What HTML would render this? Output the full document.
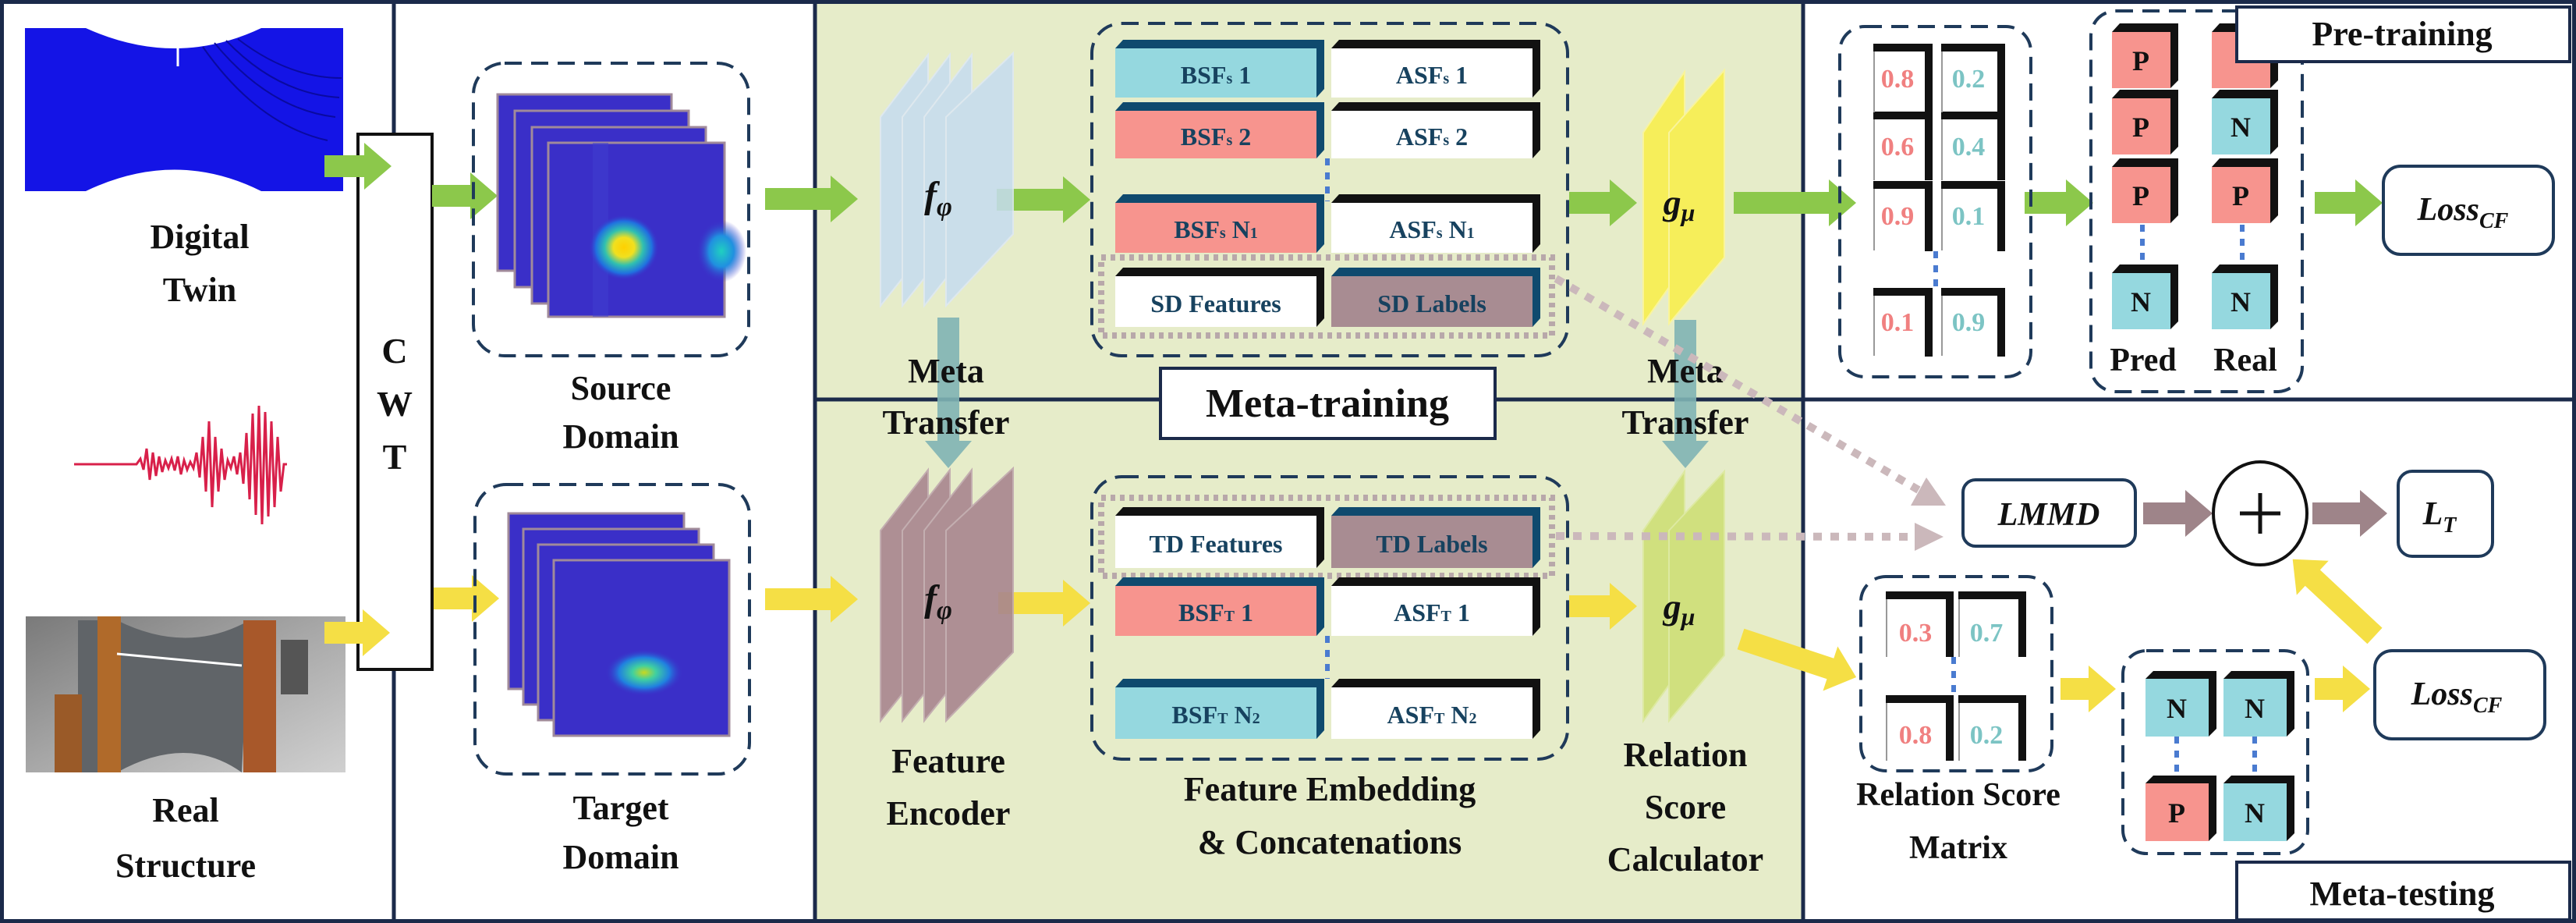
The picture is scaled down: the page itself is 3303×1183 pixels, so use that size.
<!DOCTYPE html>
<html><head><meta charset="utf-8"><style>
html,body{margin:0;padding:0;background:#fff}
svg{display:block}
text{font-family:"Liberation Serif",serif;font-weight:bold}
</style></head><body>
<svg width="3303" height="1183" viewBox="0 0 3303 1183" xmlns="http://www.w3.org/2000/svg">
<defs>
<radialGradient id="blob1" cx="0.5" cy="0.5" r="0.5">
<stop offset="0" stop-color="#ffd000"/><stop offset="0.3" stop-color="#f0e020"/><stop offset="0.55" stop-color="#30c0b0"/><stop offset="0.8" stop-color="#2070e0"/><stop offset="1" stop-color="#3a2fc8" stop-opacity="0"/>
</radialGradient>
<radialGradient id="blob2" cx="0.5" cy="0.5" r="0.5">
<stop offset="0" stop-color="#20d0c0"/><stop offset="0.5" stop-color="#2090e0"/><stop offset="1" stop-color="#3a2fc8" stop-opacity="0"/>
</radialGradient>
<radialGradient id="blob3" cx="0.5" cy="0.5" r="0.5">
<stop offset="0" stop-color="#c8d820"/><stop offset="0.3" stop-color="#40d0a0"/><stop offset="0.65" stop-color="#2080e0"/><stop offset="1" stop-color="#3a2fc8" stop-opacity="0"/>
</radialGradient>
<linearGradient id="photo" x1="0" y1="0" x2="1" y2="1">
<stop offset="0" stop-color="#7a7a7a"/><stop offset="0.5" stop-color="#a8a8a8"/><stop offset="1" stop-color="#d0d0d0"/>
</linearGradient>
</defs>

<!-- panels -->
<rect x="1045" y="0" width="1267" height="1183" fill="#e6ecc9"/>
<rect x="2.5" y="2.5" width="3298" height="1178" fill="none" stroke="#1b2a4a" stroke-width="5"/>
<line x1="505" y1="0" x2="505" y2="1183" stroke="#1b2a4a" stroke-width="5"/>
<line x1="1045" y1="0" x2="1045" y2="1183" stroke="#1b2a4a" stroke-width="5"/>
<line x1="2312" y1="0" x2="2312" y2="1183" stroke="#1b2a4a" stroke-width="5"/>
<line x1="1045" y1="512" x2="3303" y2="512" stroke="#1b2a4a" stroke-width="5"/>

<!-- digital twin plate -->
<path d="M32,36 L110,36 Q225,88 335,36 L440,36 L440,245 L335,245 Q225,190 110,245 L32,245 Z" fill="#1414e6"/>
<line x1="228" y1="60" x2="228" y2="85" stroke="#fff" stroke-width="3"/>
<g fill="none" stroke="#0a0aa0" stroke-width="2">
<path d="M260,60 Q330,160 420,180"/><path d="M275,55 Q345,140 430,150"/><path d="M290,52 Q355,120 435,125"/><path d="M305,50 Q370,100 438,100"/>
</g>
<text x="256" y="318" font-size="44" text-anchor="middle" fill="#111">Digital</text>
<text x="256" y="386" font-size="44" text-anchor="middle" fill="#111">Twin</text>

<!-- waveform -->
<polyline fill="none" stroke="#d8204a" stroke-width="3" points="95,595 175,595 180,588 184,602 188,575 192,615 196,580 200,610 204,585 208,605 212,590 216,600 220,588 224,603 228,585 232,608 236,590 240,602 244,592 248,600 252,580 256,612 260,560 264,630 268,540 272,650 276,560 280,630 284,575 288,615 292,590 296,600 300,585 304,608 308,580 312,620 316,555 320,640 324,530 328,660 332,520 336,672 340,528 344,662 348,540 352,650 356,560 360,630 364,595 368,595"/>

<!-- real structure photo -->
<rect x="33" y="790" width="410" height="200" fill="url(#photo)"/>
<path d="M100,795 L150,795 Q240,840 320,795 L310,990 Q240,940 150,990 L100,990Z" fill="#606468"/>
<rect x="125" y="790" width="30" height="200" fill="#b06a2a"/>
<rect x="70" y="890" width="35" height="100" fill="#9a5a28"/>
<rect x="312" y="795" width="42" height="195" fill="#a8582a"/>
<rect x="360" y="820" width="35" height="70" fill="#555"/>
<line x1="150" y1="838" x2="310" y2="853" stroke="#fff" stroke-width="3"/>
<text x="238" y="1053" font-size="44" text-anchor="middle" fill="#111">Real</text>
<text x="238" y="1124" font-size="44" text-anchor="middle" fill="#111">Structure</text>

<!-- CWT -->
<rect x="459" y="172" width="95" height="686" fill="#fff" stroke="#111" stroke-width="4"/>
<text x="506" y="465" font-size="46" text-anchor="middle" fill="#111">C</text>
<text x="506" y="533" font-size="46" text-anchor="middle" fill="#111">W</text>
<text x="506" y="601" font-size="46" text-anchor="middle" fill="#111">T</text>

<!-- arrows left -->
<g fill="#8cc84b">
<polygon points="416,199 467,199 467,183 502,213 467,243 467,227 416,227"/>
<polygon points="554,237 603,237 603,221 638,251 603,281 603,265 554,265"/>
<polygon points="981,241 1065,241 1065,225 1100,255 1065,285 1065,269 981,269"/>
<polygon points="1278,242 1363,242 1363,226 1398,256 1363,286 1363,270 1278,270"/>
<polygon points="2012,246 2064,246 2064,230 2099,260 2064,290 2064,274 2012,274"/>
<polygon points="2223,246 2345,246 2345,230 2380,260 2345,290 2345,274 2223,274"/>
<polygon points="2596,246 2649,246 2649,230 2684,260 2649,290 2649,274 2596,274"/>
<polygon points="2968,246 3020,246 3020,230 3055,260 3020,290 3020,274 2968,274"/>
</g>
<g fill="#f5df45">
<polygon points="416,797 465,797 465,781 500,811 465,841 465,825 416,825"/>
<polygon points="556,753 605,753 605,737 640,767 605,797 605,781 556,781"/>
<polygon points="981,754 1065,754 1065,738 1100,768 1065,798 1065,782 981,782"/>
<polygon points="1280,759 1363,759 1363,743 1398,773 1363,803 1363,787 1280,787"/>
<polygon points="2012,763 2064,763 2064,747 2099,777 2064,807 2064,791 2012,791"/>
<polygon points="2642,869 2678,869 2678,853 2713,883 2678,913 2678,897 2642,897"/>
<polygon points="2968,869 3004,869 3004,853 3039,883 3004,913 3004,897 2968,897"/>
<g transform="translate(2232,819) rotate(18.3)"><polygon points="0,-14 121,-14 121,-30 156,0 121,30 121,14 0,14"/></g>
<g transform="translate(3045,815) rotate(223)"><polygon points="0,-14 109,-14 109,-30 144,0 109,30 109,14 0,14"/></g>
</g>

<!-- source domain -->
<rect x="607" y="81" width="353" height="375" rx="40" fill="none" stroke="#1f3a5a" stroke-width="4" stroke-dasharray="22 12"/>
<g stroke="#a08a9a" stroke-width="3" fill="#3a2fc8">
<rect x="638" y="121" width="223" height="226"/>
<rect x="660" y="142" width="223" height="226"/>
<rect x="682" y="163" width="223" height="226"/>
<rect x="703" y="183" width="226" height="223"/>
</g>
<rect x="760" y="183" width="20" height="223" fill="#4040d0" opacity="0.5"/>
<ellipse cx="800" cy="317" rx="45" ry="42" fill="url(#blob1)"/>
<ellipse cx="925" cy="322" rx="32" ry="40" fill="url(#blob2)"/>
<text x="796" y="512" font-size="44" text-anchor="middle" fill="#111">Source</text>
<text x="796" y="574" font-size="44" text-anchor="middle" fill="#111">Domain</text>

<!-- target domain -->
<rect x="609" y="621" width="352" height="371" rx="40" fill="none" stroke="#1f3a5a" stroke-width="4" stroke-dasharray="22 12"/>
<g stroke="#a08a9a" stroke-width="3" fill="#3a2fc8">
<rect x="652" y="658" width="225" height="225"/>
<rect x="671" y="678" width="225" height="225"/>
<rect x="690" y="698" width="225" height="225"/>
<rect x="710" y="718" width="225" height="225"/>
</g>
<ellipse cx="826" cy="862" rx="50" ry="30" fill="url(#blob3)"/>
<text x="796" y="1050" font-size="44" text-anchor="middle" fill="#111">Target</text>
<text x="796" y="1113" font-size="44" text-anchor="middle" fill="#111">Domain</text>

<!-- f phi top -->
<g fill="#c6dcf0" stroke="#dde8f5" stroke-width="2" opacity="0.85">
<polygon points="1129,150 1190,70 1190,315 1129,392"/>
<polygon points="1157,150 1218,70 1218,315 1157,392"/>
<polygon points="1185,150 1246,70 1246,315 1185,392"/>
<polygon points="1213,150 1299,68 1299,300 1213,392"/>
</g>
<text x="1203" y="266" font-size="48" text-anchor="middle" fill="#111" font-style="italic">f<tspan font-size="34" dy="10">φ</tspan></text>
<!-- f phi bottom -->
<g fill="#a8868f" stroke="#c0a8ae" stroke-width="2" opacity="0.9">
<polygon points="1129,680 1190,602 1190,848 1129,924"/>
<polygon points="1157,680 1218,602 1218,848 1157,924"/>
<polygon points="1185,680 1246,602 1246,848 1185,924"/>
<polygon points="1213,680 1299,600 1299,836 1213,924"/>
</g>
<text x="1203" y="783" font-size="48" text-anchor="middle" fill="#111" font-style="italic">f<tspan font-size="34" dy="10">φ</tspan></text>

<!-- g mu top -->
<g fill="#f7ef55" stroke="#fbf59a" stroke-width="2" opacity="0.95">
<polygon points="2107,170 2160,92 2160,340 2107,415"/>
<polygon points="2140,170 2211,90 2211,330 2140,415"/>
</g>
<text x="2153" y="275" font-size="46" text-anchor="middle" fill="#111" font-style="italic">g<tspan font-size="32" dy="8">μ</tspan></text>
<!-- g mu bottom -->
<g fill="#cfe07a" stroke="#dde9a0" stroke-width="2" opacity="0.95">
<polygon points="2107,680 2160,604 2160,850 2107,924"/>
<polygon points="2140,680 2211,604 2211,840 2140,924"/>
</g>
<text x="2153" y="793" font-size="46" text-anchor="middle" fill="#111" font-style="italic">g<tspan font-size="32" dy="8">μ</tspan></text>

<!-- meta transfer arrows (teal) -->
<g fill="#7fb4b4" opacity="0.9">
<polygon points="1202,407 1230,407 1230,565 1246,565 1216,600 1186,565 1202,565"/>
<polygon points="2147,410 2175,410 2175,565 2191,565 2161,600 2131,565 2147,565"/>
</g>
<text x="1213" y="490" font-size="44" text-anchor="middle" fill="#111">Meta</text>
<text x="1213" y="556" font-size="44" text-anchor="middle" fill="#111">Transfer</text>
<text x="2161" y="490" font-size="44" text-anchor="middle" fill="#111">Meta</text>
<text x="2161" y="556" font-size="44" text-anchor="middle" fill="#111">Transfer</text>

<!-- meta-training label -->
<rect x="1488" y="472" width="429" height="90" fill="#fff" stroke="#1b2a4a" stroke-width="4"/>
<text x="1702" y="534" font-size="52" text-anchor="middle" fill="#111">Meta-training</text>

<!-- top embedding box -->
<rect x="1400" y="30" width="610" height="426" rx="38" fill="none" stroke="#1f3a5a" stroke-width="4" stroke-dasharray="22 12"/>
<rect x="1412" y="330" width="578" height="100" fill="none" stroke="#b8a8aa" stroke-width="8" stroke-dasharray="6 6"/>
<!-- bottom embedding box -->
<rect x="1400" y="611" width="610" height="362" rx="38" fill="none" stroke="#1f3a5a" stroke-width="4" stroke-dasharray="22 12"/>
<rect x="1412" y="638" width="578" height="100" fill="none" stroke="#b8a8aa" stroke-width="8" stroke-dasharray="6 6"/>

<!-- BSF boxes: helper pattern: top bar + right bar + front -->
<g font-size="32" text-anchor="middle" fill="#17425f">
<!-- row 1 -->
<polygon points="1430,62 1440,51 1698,51 1698,114 1688,125 1688,62" fill="#0f4a6e"/>
<rect x="1430" y="62" width="258" height="63" fill="#95d8df"/>
<text x="1559" y="107">BSF<tspan font-size="20">s</tspan> 1</text>
<polygon points="1707,62 1717,51 1975,51 1975,114 1965,125 1965,62" fill="#111"/>
<rect x="1707" y="62" width="258" height="63" fill="#fff"/>
<text x="1836" y="107">ASF<tspan font-size="20">s</tspan> 1</text>
<!-- row 2 -->
<polygon points="1430,142 1440,131 1698,131 1698,192 1688,203 1688,142" fill="#0f4a6e"/>
<rect x="1430" y="142" width="258" height="61" fill="#f7948e"/>
<text x="1559" y="186">BSF<tspan font-size="20">s</tspan> 2</text>
<polygon points="1707,142 1717,131 1975,131 1975,192 1965,203 1965,142" fill="#111"/>
<rect x="1707" y="142" width="258" height="61" fill="#fff"/>
<text x="1836" y="186">ASF<tspan font-size="20">s</tspan> 2</text>
<!-- row N1 -->
<polygon points="1430,260 1440,249 1698,249 1698,313 1688,324 1688,260" fill="#0f4a6e"/>
<rect x="1430" y="260" width="258" height="64" fill="#f7948e"/>
<text x="1559" y="305">BSF<tspan font-size="20">s</tspan> N<tspan font-size="20">1</tspan></text>
<polygon points="1707,260 1717,249 1975,249 1975,313 1965,324 1965,260" fill="#111"/>
<rect x="1707" y="260" width="258" height="64" fill="#fff"/>
<text x="1836" y="305">ASF<tspan font-size="20">s</tspan> N<tspan font-size="20">1</tspan></text>
<!-- SD row -->
<polygon points="1430,354 1440,343 1698,343 1698,408 1688,419 1688,354" fill="#111"/>
<rect x="1430" y="354" width="258" height="65" fill="#fff"/>
<text x="1559" y="400">SD Features</text>
<polygon points="1707,354 1717,343 1975,343 1975,408 1965,419 1965,354" fill="#0f4a6e"/>
<rect x="1707" y="354" width="258" height="65" fill="#a88c92"/>
<text x="1836" y="400">SD Labels</text>
<!-- TD row -->
<polygon points="1430,661 1440,650 1698,650 1698,717 1688,728 1688,661" fill="#111"/>
<rect x="1430" y="661" width="258" height="67" fill="#fff"/>
<text x="1559" y="708">TD Features</text>
<polygon points="1707,661 1717,650 1975,650 1975,717 1965,728 1965,661" fill="#0f4a6e"/>
<rect x="1707" y="661" width="258" height="67" fill="#a88c92"/>
<text x="1836" y="708">TD Labels</text>
<!-- BSFT 1 -->
<polygon points="1430,751 1440,740 1698,740 1698,804 1688,815 1688,751" fill="#0f4a6e"/>
<rect x="1430" y="751" width="258" height="64" fill="#f7948e"/>
<text x="1559" y="796">BSF<tspan font-size="20">T</tspan> 1</text>
<polygon points="1707,751 1717,740 1975,740 1975,804 1965,815 1965,751" fill="#111"/>
<rect x="1707" y="751" width="258" height="64" fill="#fff"/>
<text x="1836" y="796">ASF<tspan font-size="20">T</tspan> 1</text>
<!-- BSFT N2 -->
<polygon points="1430,881 1440,870 1698,870 1698,936 1688,947 1688,881" fill="#0f4a6e"/>
<rect x="1430" y="881" width="258" height="66" fill="#95d8df"/>
<text x="1559" y="927">BSF<tspan font-size="20">T</tspan> N<tspan font-size="20">2</tspan></text>
<polygon points="1707,881 1717,870 1975,870 1975,936 1965,947 1965,881" fill="#111"/>
<rect x="1707" y="881" width="258" height="66" fill="#fff"/>
<text x="1836" y="927">ASF<tspan font-size="20">T</tspan> N<tspan font-size="20">2</tspan></text>
</g>
<line x1="1702" y1="203" x2="1702" y2="258" stroke="#4a7bd0" stroke-width="6" stroke-dasharray="9 9"/>
<line x1="1702" y1="815" x2="1702" y2="870" stroke="#4a7bd0" stroke-width="6" stroke-dasharray="9 9"/>

<text x="1216" y="990" font-size="44" text-anchor="middle" fill="#111">Feature</text>
<text x="1216" y="1057" font-size="44" text-anchor="middle" fill="#111">Encoder</text>
<text x="1705" y="1026" font-size="44" text-anchor="middle" fill="#111">Feature Embedding</text>
<text x="1705" y="1094" font-size="44" text-anchor="middle" fill="#111">&amp; Concatenations</text>
<text x="2161" y="982" font-size="44" text-anchor="middle" fill="#111">Relation</text>
<text x="2161" y="1049" font-size="44" text-anchor="middle" fill="#111">Score</text>
<text x="2161" y="1116" font-size="44" text-anchor="middle" fill="#111">Calculator</text>

<!-- dotted arrows -->
<g stroke="#cbb8bb" stroke-width="10" stroke-dasharray="11 11" fill="none">
<line x1="1995" y1="357" x2="2460" y2="628"/>
<line x1="1995" y1="687" x2="2455" y2="688"/>
</g>
<polygon points="2495,648 2450,648 2470,612" fill="#cbb8bb"/>
<polygon points="2492,688 2455,670 2455,706" fill="#cbb8bb"/>

<!-- Pre-training label -->
<rect x="2868" y="9" width="427" height="70" fill="#fff" stroke="#1b2a4a" stroke-width="4"/>

<!-- score matrix top -->
<rect x="2359" y="34" width="245" height="449" rx="32" fill="none" stroke="#1f3a5a" stroke-width="4" stroke-dasharray="22 12"/>
<g font-size="34" text-anchor="middle">
<g id="sc">
</g>
</g>
<g stroke="none">
<!-- cells: white face, black top & right -->
<g fill="#111">
<rect x="2402" y="56" width="74" height="10"/><rect x="2468" y="56" width="10" height="88"/>
<rect x="2489" y="56" width="80" height="10"/><rect x="2561" y="56" width="10" height="88"/>
<rect x="2402" y="143" width="74" height="10"/><rect x="2468" y="143" width="10" height="88"/>
<rect x="2489" y="143" width="80" height="10"/><rect x="2561" y="143" width="10" height="88"/>
<rect x="2402" y="232" width="74" height="10"/><rect x="2468" y="232" width="10" height="90"/>
<rect x="2489" y="232" width="80" height="10"/><rect x="2561" y="232" width="10" height="90"/>
<rect x="2402" y="369" width="74" height="10"/><rect x="2468" y="369" width="10" height="88"/>
<rect x="2489" y="369" width="80" height="10"/><rect x="2561" y="369" width="10" height="88"/>
</g>
<g stroke="#999" stroke-width="2">
<line x1="2403" y1="66" x2="2403" y2="144"/><line x1="2490" y1="66" x2="2490" y2="144"/>
<line x1="2403" y1="153" x2="2403" y2="231"/><line x1="2490" y1="153" x2="2490" y2="231"/>
<line x1="2403" y1="242" x2="2403" y2="321"/><line x1="2490" y1="242" x2="2490" y2="321"/>
<line x1="2403" y1="379" x2="2403" y2="456"/><line x1="2490" y1="379" x2="2490" y2="456"/>
</g>
</g>
<g font-size="34" text-anchor="middle">
<text x="2433" y="112" fill="#f08080">0.8</text><text x="2524" y="112" fill="#7cc4c4">0.2</text>
<text x="2433" y="199" fill="#f08080">0.6</text><text x="2524" y="199" fill="#7cc4c4">0.4</text>
<text x="2433" y="288" fill="#f08080">0.9</text><text x="2524" y="288" fill="#7cc4c4">0.1</text>
<text x="2433" y="424" fill="#f08080">0.1</text><text x="2524" y="424" fill="#7cc4c4">0.9</text>
</g>
<line x1="2482" y1="322" x2="2482" y2="369" stroke="#4a7bd0" stroke-width="6" stroke-dasharray="9 9"/>

<!-- Pred/Real -->
<rect x="2681" y="14" width="271" height="488" rx="32" fill="none" stroke="#1f3a5a" stroke-width="4" stroke-dasharray="22 12"/>
<g>
<!-- cube: front (x,y,75,72); black top/right offset 10 -->
<polygon points="2708,41 2718,30 2793,30 2793,103 2783,113 2783,41" fill="#111"/><rect x="2708" y="41" width="75" height="72" fill="#f7948e"/>
<polygon points="2708,126 2718,115 2793,115 2793,188 2783,198 2783,126" fill="#111"/><rect x="2708" y="126" width="75" height="72" fill="#f7948e"/>
<polygon points="2708,214 2718,203 2793,203 2793,276 2783,286 2783,214" fill="#111"/><rect x="2708" y="214" width="75" height="72" fill="#f7948e"/>
<polygon points="2708,350 2718,339 2793,339 2793,412 2783,422 2783,350" fill="#111"/><rect x="2708" y="350" width="75" height="72" fill="#95d8df"/>
<polygon points="2836,41 2846,30 2921,30 2921,103 2911,113 2911,41" fill="#111"/><rect x="2836" y="41" width="75" height="72" fill="#f7948e"/>
<polygon points="2836,126 2846,115 2921,115 2921,188 2911,198 2911,126" fill="#111"/><rect x="2836" y="126" width="75" height="72" fill="#95d8df"/>
<polygon points="2836,214 2846,203 2921,203 2921,276 2911,286 2911,214" fill="#111"/><rect x="2836" y="214" width="75" height="72" fill="#f7948e"/>
<polygon points="2836,350 2846,339 2921,339 2921,412 2911,422 2911,350" fill="#111"/><rect x="2836" y="350" width="75" height="72" fill="#95d8df"/>
</g>
<g font-size="36" text-anchor="middle" fill="#111">
<text x="2745" y="90">P</text><text x="2745" y="175">P</text><text x="2745" y="263">P</text><text x="2745" y="399">N</text>
<text x="2873" y="175">N</text><text x="2873" y="263">P</text><text x="2873" y="399">N</text>
</g>
<g stroke="#4a7bd0" stroke-width="6" stroke-dasharray="9 9">
<line x1="2747" y1="288" x2="2747" y2="339"/><line x1="2875" y1="288" x2="2875" y2="339"/>
</g>
<rect x="2868" y="9" width="427" height="70" fill="#fff" stroke="#1b2a4a" stroke-width="4"/>
<text x="3080" y="58" font-size="44" text-anchor="middle" fill="#111">Pre-training</text>
<text x="2748" y="475" font-size="42" text-anchor="middle" fill="#111">Pred</text>
<text x="2879" y="475" font-size="42" text-anchor="middle" fill="#111">Real</text>

<!-- Loss CF top -->
<rect x="3056" y="213" width="218" height="113" rx="22" fill="#fff" stroke="#1f3a5a" stroke-width="4"/>
<text x="3158" y="282" font-size="42" text-anchor="middle" fill="#111" font-style="italic">Loss<tspan font-size="28" dy="10">CF</tspan></text>

<!-- LMMD -->
<rect x="2517" y="615" width="221" height="85" rx="16" fill="#fff" stroke="#1f3a5a" stroke-width="4"/>
<text x="2627" y="673" font-size="42" text-anchor="middle" fill="#111" font-style="italic">LMMD</text>
<g fill="#9e8489">
<polygon points="2748,644 2802,644 2802,628 2837,658 2802,688 2802,672 2748,672"/>
<polygon points="2965,644 3026,644 3026,628 3061,658 3026,688 3026,672 2965,672"/>
</g>
<ellipse cx="2898" cy="658" rx="60" ry="66" fill="#fff" stroke="#111" stroke-width="4"/>
<line x1="2872" y1="658" x2="2924" y2="658" stroke="#111" stroke-width="5"/>
<line x1="2898" y1="632" x2="2898" y2="684" stroke="#111" stroke-width="5"/>
<rect x="3075" y="604" width="121" height="109" rx="18" fill="#fff" stroke="#1f3a5a" stroke-width="4"/>
<text x="3128" y="672" font-size="42" text-anchor="middle" fill="#111" font-style="italic">L<tspan font-size="28" dy="10">T</tspan></text>

<!-- relation matrix -->
<rect x="2386" y="739" width="245" height="249" rx="32" fill="none" stroke="#1f3a5a" stroke-width="4" stroke-dasharray="22 12"/>
<g fill="#111">
<rect x="2418" y="758" width="85" height="10"/><rect x="2495" y="758" width="10" height="84"/>
<rect x="2511" y="758" width="85" height="10"/><rect x="2588" y="758" width="10" height="84"/>
<rect x="2418" y="891" width="85" height="10"/><rect x="2495" y="891" width="10" height="84"/>
<rect x="2511" y="891" width="85" height="10"/><rect x="2588" y="891" width="10" height="84"/>
</g>
<g stroke="#999" stroke-width="2">
<line x1="2419" y1="768" x2="2419" y2="842"/><line x1="2512" y1="768" x2="2512" y2="842"/>
<line x1="2419" y1="901" x2="2419" y2="975"/><line x1="2512" y1="901" x2="2512" y2="975"/>
</g>
<g font-size="34" text-anchor="middle">
<text x="2456" y="822" fill="#f08080">0.3</text><text x="2547" y="822" fill="#7cc4c4">0.7</text>
<text x="2456" y="953" fill="#f08080">0.8</text><text x="2547" y="953" fill="#7cc4c4">0.2</text>
</g>
<line x1="2505" y1="842" x2="2505" y2="891" stroke="#4a7bd0" stroke-width="6" stroke-dasharray="9 9"/>
<text x="2511" y="1032" font-size="42" text-anchor="middle" fill="#111">Relation Score</text>
<text x="2511" y="1100" font-size="42" text-anchor="middle" fill="#111">Matrix</text>

<!-- NN box -->
<rect x="2722" y="834" width="237" height="260" rx="30" fill="none" stroke="#1f3a5a" stroke-width="4" stroke-dasharray="22 12"/>
<polygon points="2751,870 2761,860 2842,860 2842,934 2832,944 2832,870" fill="#111"/><rect x="2751" y="870" width="81" height="74" fill="#95d8df"/>
<polygon points="2851,870 2861,860 2942,860 2942,934 2932,944 2932,870" fill="#111"/><rect x="2851" y="870" width="81" height="74" fill="#95d8df"/>
<polygon points="2751,1004 2761,994 2842,994 2842,1068 2832,1078 2832,1004" fill="#111"/><rect x="2751" y="1004" width="81" height="74" fill="#f7948e"/>
<polygon points="2851,1004 2861,994 2942,994 2942,1068 2932,1078 2932,1004" fill="#111"/><rect x="2851" y="1004" width="81" height="74" fill="#95d8df"/>
<g font-size="36" text-anchor="middle" fill="#111">
<text x="2791" y="920">N</text><text x="2891" y="920">N</text>
<text x="2791" y="1054">P</text><text x="2891" y="1054">N</text>
</g>
<g stroke="#4a7bd0" stroke-width="6" stroke-dasharray="9 9">
<line x1="2791" y1="944" x2="2791" y2="994"/><line x1="2891" y1="944" x2="2891" y2="994"/>
</g>

<!-- Loss CF bottom -->
<rect x="3045" y="834" width="218" height="113" rx="22" fill="#fff" stroke="#1f3a5a" stroke-width="4"/>
<text x="3150" y="903" font-size="42" text-anchor="middle" fill="#111" font-style="italic">Loss<tspan font-size="28" dy="10">CF</tspan></text>

<!-- Meta-testing label -->
<rect x="2868" y="1105" width="427" height="74" fill="#fff" stroke="#1b2a4a" stroke-width="4"/>
<text x="3080" y="1160" font-size="44" text-anchor="middle" fill="#111">Meta-testing</text>
</svg>
</body></html>
